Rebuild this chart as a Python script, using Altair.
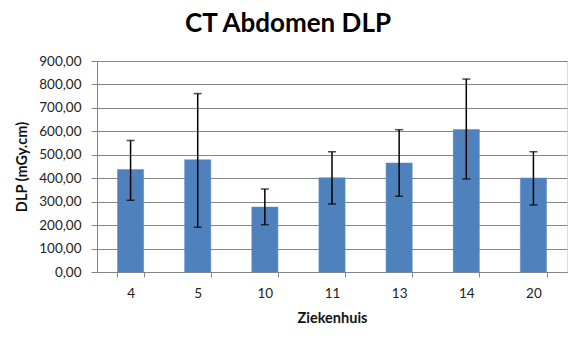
import altair as alt
import pandas as pd

ziekenhuis = ["4", "5", "10", "11", "13", "14", "20"]
dlp = [437, 479, 277, 402, 465, 608, 401]
err_low = [306, 191, 202, 290, 323, 397, 286]
err_high = [561, 761, 354, 513, 607, 823, 513]
y_ticks = [0, 100, 200, 300, 400, 500, 600, 700, 800, 900]

df = pd.DataFrame({"Ziekenhuis": ziekenhuis, "DLP": dlp, "low": err_low, "high": err_high})

FONT = "Lato"
GRAY = "#868686"

xscale = alt.Scale(domain=ziekenhuis, paddingInner=0.61, paddingOuter=0.305)
yscale = alt.Scale(domain=[0, 900], nice=False)

x_axis = alt.Axis(title="Ziekenhuis", labelAngle=0, ticks=True, tickBand="extent",
                  tickColor=GRAY, tickSize=5,
                  domainColor=GRAY, labelFont=FONT, labelFontSize=13.5,
                  labelColor="#222222", labelPadding=9, labelOverlap=False,
                  titleFont=FONT, titleFontSize=14.5, titleFontWeight="bold",
                  titlePadding=12, titleColor="#111111")
y_axis = alt.Axis(title="DLP (mGy.cm)", values=y_ticks,
                  labelExpr="replace(format(datum.value, '.2f'), '.', ',')",
                  labelOverlap=False,
                  grid=True, gridColor=GRAY, gridWidth=1,
                  domainColor=GRAY, tickColor=GRAY, tickSize=6,
                  labelFont=FONT, labelFontSize=13.5, labelColor="#222222",
                  labelPadding=10,
                  titleFont=FONT, titleFontSize=14.5, titleFontWeight="bold",
                  titlePadding=9, titleColor="#111111")


def xenc():
    return alt.X("Ziekenhuis:N", scale=xscale, sort=ziekenhuis, axis=x_axis)


bars = alt.Chart(df).mark_bar(color="#4F81BD", stroke="#5B8BC6", strokeWidth=0.5).encode(
    x=xenc(),
    y=alt.Y("DLP:Q", scale=yscale, axis=y_axis),
)

err_rule = alt.Chart(df).mark_rule(color="black", strokeWidth=1.5).encode(
    x=xenc(),
    y=alt.Y("low:Q", scale=yscale, axis=y_axis),
    y2="high:Q",
)
cap_low = alt.Chart(df).mark_tick(color="black", size=8, thickness=1.5, orient="horizontal").encode(
    x=xenc(),
    y=alt.Y("low:Q", scale=yscale, axis=y_axis),
)
cap_high = alt.Chart(df).mark_tick(color="black", size=8, thickness=1.5, orient="horizontal").encode(
    x=xenc(),
    y=alt.Y("high:Q", scale=yscale, axis=y_axis),
)

chart = alt.layer(bars, err_rule, cap_low, cap_high).properties(
    width=470, height=211,
    padding={"left": 97, "top": 61, "right": 17, "bottom": 71},
    autosize="none",
    title=alt.TitleParams("CT Abdomen DLP", font=FONT, fontSize=26, fontWeight="bold",
                          color="#000000", anchor="middle", dx=-44, offset=17),
).configure_view(stroke=None).configure(background="white")

chart.save("out.html", embed_options={"renderer": "svg", "actions": False})
